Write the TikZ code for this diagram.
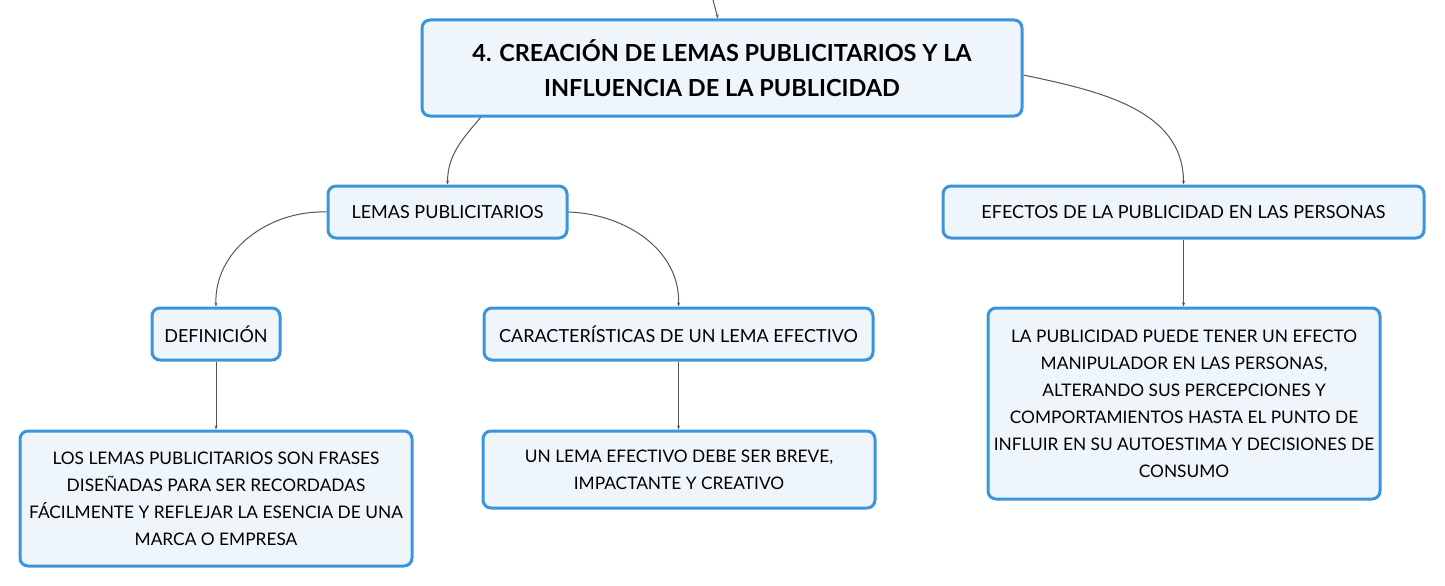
\documentclass[tikz,border=0pt]{standalone}
\usepackage{fontspec}
\setmainfont{Lato}
\usetikzlibrary{arrows.meta, positioning}

\definecolor{boxblue}{HTML}{3A95DC}
\definecolor{boxfill}{HTML}{EEF6FC}
\definecolor{linkgray}{HTML}{555555}

\begin{document}
\begin{tikzpicture}[
    x=1pt, y=1pt,
    box/.style={rectangle, rounded corners=8pt, draw=boxblue, line width=3pt, fill=boxfill,
        align=center, inner sep=0pt, font=\fontsize{18}{27}\selectfont},
    leafbox/.style={box, font=\fontsize{17.3}{27}\selectfont},
    rootbox/.style={box, font=\fontsize{23.5}{35}\selectfont\bfseries},
    link/.style={draw=linkgray, line width=1pt, -{Stealth[length=4pt,width=3pt]}}
]
\useasboundingbox (0,0) rectangle (1445,-586);

% Main topic
\coordinate (top) at (713,0);
\node[rootbox, minimum width=600pt, minimum height=96pt] (root) at (722,-68)
    {4. CREACIÓN DE LEMAS PUBLICITARIOS Y LA\\INFLUENCIA DE LA PUBLICIDAD};

% Subtopics
\node[box, minimum width=239pt, minimum height=52pt] (lemas) at (447.5,-212) {LEMAS PUBLICITARIOS};
\node[box, minimum width=481pt, minimum height=52pt] (efectos) at (1183.5,-212) {EFECTOS DE LA PUBLICIDAD EN LAS PERSONAS};

% Second level
\node[box, minimum width=128pt, minimum height=52pt] (def) at (216,-334) {DEFINICIÓN};
\node[box, minimum width=389pt, minimum height=52pt] (carac) at (678.5,-334) {CARACTERÍSTICAS DE UN LEMA EFECTIVO};

% Leaves
\node[leafbox, minimum width=392pt, minimum height=135pt] (defleaf) at (216,-498.5)
    {LOS LEMAS PUBLICITARIOS SON FRASES\\DISEÑADAS PARA SER RECORDADAS\\FÁCILMENTE Y REFLEJAR LA ESENCIA DE UNA\\MARCA O EMPRESA};
\node[leafbox, minimum width=392pt, minimum height=77pt] (caracleaf) at (679,-469.5)
    {UN LEMA EFECTIVO DEBE SER BREVE,\\IMPACTANTE Y CREATIVO};
\node[leafbox, minimum width=392pt, minimum height=191pt] (efectosleaf) at (1184,-403.5)
    {LA PUBLICIDAD PUEDE TENER UN EFECTO\\MANIPULADOR EN LAS PERSONAS,\\ALTERANDO SUS PERCEPCIONES Y\\COMPORTAMIENTOS HASTA EL PUNTO DE\\INFLUIR EN SU AUTOESTIMA Y DECISIONES DE\\CONSUMO};

% Connectors
\draw[link] (top) -- ([xshift=-4pt]root.north);
\draw[link] ([xshift=60pt]root.south west) to[out=-130, in=90] (lemas.north);
\draw[link] ([yshift=-7pt]root.east) to[out=-12, in=90] (efectos.north);
\draw[link] (lemas.west) to[out=178, in=92] (def.north);
\draw[link] (lemas.east) to[out=-2, in=88] (carac.north);
\draw[link] (def.south) -- (defleaf.north -| def.south);
\draw[link] (carac.south) -- (caracleaf.north -| carac.south);
\draw[link] (efectos.south) -- (efectosleaf.north -| efectos.south);

\end{tikzpicture}
\end{document}
